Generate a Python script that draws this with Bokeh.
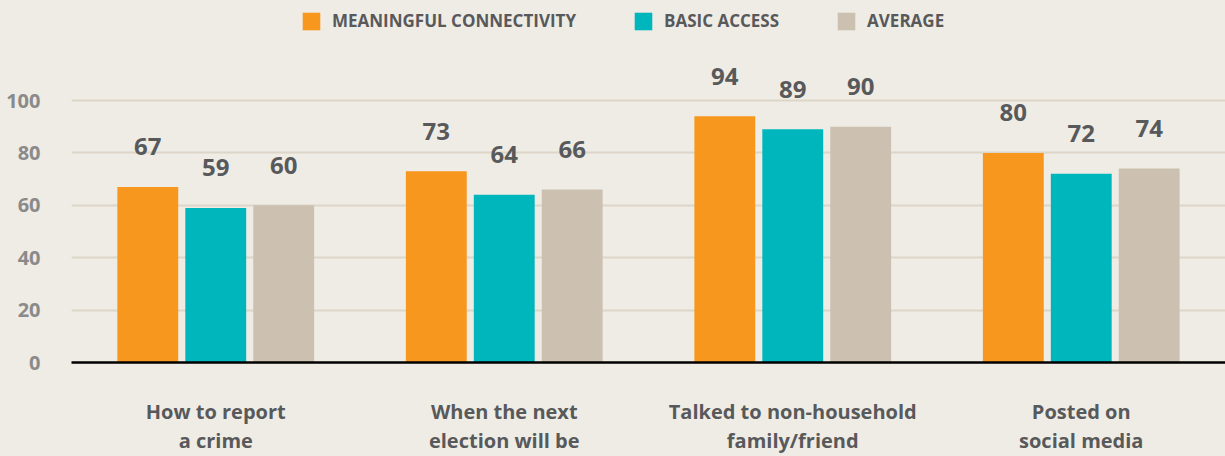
from bokeh.plotting import figure
from bokeh.models import ColumnDataSource, Range1d, FixedTicker, Legend, LegendItem, FactorRange
from bokeh.transform import dodge
from bokeh.core.properties import value
from bokeh.embed import file_html
from bokeh.resources import INLINE

categories = ["How to report\na crime", "When the next\nelection will be",
              "Talked to non-household\nfamily/friend", "Posted on\nsocial media"]
meaningful = [67, 73, 94, 80]
basic = [59, 64, 89, 72]
average = [60, 66, 90, 74]
series_names = ["MEANINGFUL CONNECTIVITY", "BASIC ACCESS", "AVERAGE"]
colors = ["#F7971E", "#00B6BD", "#CCC1B0"]
y_ticks = [0, 20, 40, 60, 80, 100]

FONT = "Open Sans"
BG = "#EFECE5"
DARK = "#58595B"

src = ColumnDataSource(dict(cat=categories, m=meaningful, b=basic, a=average,
                            ml=[str(v) for v in meaningful],
                            bl=[str(v) for v in basic],
                            al=[str(v) for v in average]))

p = figure(width=1225, height=456, x_range=FactorRange(*categories),
           y_range=Range1d(0, 362 / 2.62), output_backend="svg", toolbar_location=None,
           min_border_left=71, min_border_right=0, min_border_top=0, min_border_bottom=94,
           background_fill_color=BG, border_fill_color=BG,
           outline_line_color=None)
p.styles = {"background-color": BG}
p.x_range.range_padding = 0
p.x_range.factor_padding = 0

offsets = [-0.2355, 0.0, 0.2355]
keys = ["m", "b", "a"]
renderers = []
for off, k, c in zip(offsets, keys, colors):
    r = p.vbar(x=dodge("cat", off, range=p.x_range), top=k, width=0.211, source=src,
               fill_color=c, line_color=None)
    renderers.append(r)
    p.text(x=dodge("cat", off, range=p.x_range), y=k, text=k + "l", source=src,
           text_align="center", text_baseline="middle", y_offset=-40,
           text_font=value(FONT), text_font_style="bold", text_font_size="24px",
           text_color=DARK)

p.xgrid.grid_line_color = None
p.ygrid.ticker = FixedTicker(ticks=y_ticks)
p.ygrid.grid_line_color = "#DDD5C8"
p.ygrid.grid_line_width = 2

p.yaxis.ticker = FixedTicker(ticks=y_ticks)
p.yaxis.axis_line_color = None
p.yaxis.major_tick_line_color = None
p.yaxis.minor_tick_line_color = None
p.yaxis.major_label_standoff = 25
p.yaxis.major_label_text_font = FONT
p.yaxis.major_label_text_font_style = "bold"
p.yaxis.major_label_text_font_size = "20px"
p.yaxis.major_label_text_color = "#8A8A8B"

p.xaxis.axis_line_color = "black"
p.xaxis.axis_line_width = 2.5
p.xaxis.major_tick_line_color = None
p.xaxis.minor_tick_line_color = None
p.xaxis.major_label_standoff = 29
p.xaxis.major_label_text_font = FONT
p.xaxis.major_label_text_font_style = "bold"
p.xaxis.major_label_text_font_size = "20px"
p.xaxis.major_label_text_color = DARK
p.xaxis.major_label_text_line_height = 1.08

legend = Legend(items=[LegendItem(label=n, renderers=[r]) for n, r in zip(series_names, renderers)],
                orientation="horizontal", location=(229, 330),
                glyph_width=22, glyph_height=22, label_standoff=10, spacing=56,
                padding=0, margin=0, border_line_color=None, background_fill_alpha=0,
                label_text_font=FONT, label_text_font_style="bold",
                label_text_font_size="17px", label_text_color=DARK, label_height=22)
p.add_layout(legend)

open("out.html", "w").write(file_html(p, INLINE))
